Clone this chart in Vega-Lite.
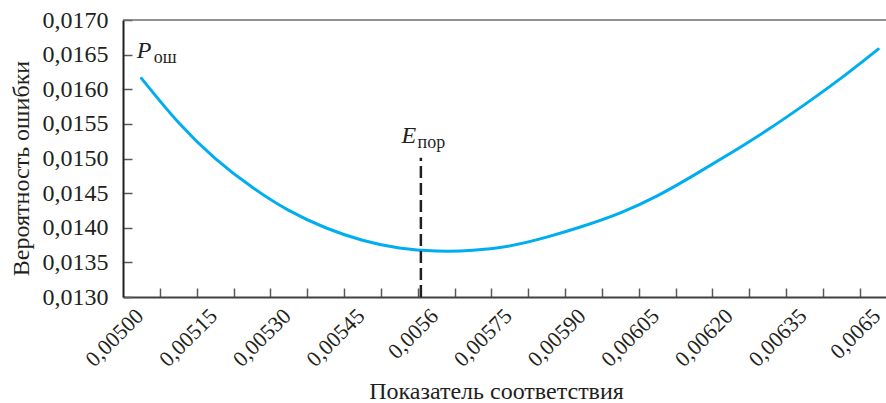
{
  "$schema": "https://vega.github.io/schema/vega-lite/v6.json",
  "autosize": {"type": "none"},
  "width": 763,
  "height": 277,
  "padding": {"left": 123, "top": 20, "right": 0, "bottom": 106},
  "background": "white",
  "config": {
    "view": {"stroke": null},
    "font": "Liberation Serif",
    "axis": {"grid": false, "labelOverlap": false, "labelFont": "Liberation Serif", "titleFont": "Liberation Serif", "titleFontWeight": "normal", "labelColor": "#231f20", "titleColor": "#231f20"}
  },
  "datasets": {
    "curve": [
      {"x": 0.005, "y": 0.016158},
      {"x": 0.005075, "y": 0.015524},
      {"x": 0.00515, "y": 0.015002},
      {"x": 0.005225, "y": 0.014587},
      {"x": 0.0053, "y": 0.01425},
      {"x": 0.005375, "y": 0.014},
      {"x": 0.00545, "y": 0.013819},
      {"x": 0.005525, "y": 0.013707},
      {"x": 0.0056, "y": 0.013664},
      {"x": 0.005675, "y": 0.013674},
      {"x": 0.00575, "y": 0.013738},
      {"x": 0.005825, "y": 0.013864},
      {"x": 0.0059, "y": 0.014025},
      {"x": 0.005975, "y": 0.014215},
      {"x": 0.00605, "y": 0.01446},
      {"x": 0.006125, "y": 0.01476},
      {"x": 0.0062, "y": 0.01508},
      {"x": 0.006275, "y": 0.015415},
      {"x": 0.00635, "y": 0.015778},
      {"x": 0.006425, "y": 0.016164},
      {"x": 0.0065, "y": 0.01658}
    ],
    "threshold": [{"x": 0.0055689, "y": 0.0130, "y2": 0.01501}],
    "border": [{"y": 0.017}],
    "mainText": [
      {"x": 0.0049907, "y": 0.016451, "text": "P"},
      {"x": 0.0055296, "y": 0.015219, "text": "E"}
    ],
    "subText": [
      {"x": 0.0050253, "y": 0.016379, "text": "ош"},
      {"x": 0.0055621, "y": 0.015147, "text": "пор"}
    ]
  },
  "layer": [
    {
      "data": {"name": "curve"},
      "mark": {"type": "line", "color": "#00aeef", "strokeWidth": 3, "interpolate": "natural", "strokeCap": "round"},
      "encoding": {
        "x": {
          "field": "x", "type": "quantitative",
          "scale": {"domain": [0.0049625, 0.0065158], "nice": false, "zero": false},
          "axis": {
            "title": "Показатель соответствия",
            "titleFontSize": 24,
            "titleX": 373,
            "titleY": 101,
            "titleBaseline": "alphabetic",
            "tickCount": 200,
            "values": [0.005, 0.0050375, 0.0051125, 0.00515, 0.0051875, 0.0052625, 0.0053, 0.0053375, 0.0054125, 0.00545, 0.0054875, 0.0055625, 0.0056, 0.0056375, 0.0057125, 0.00575, 0.0057875, 0.0058625, 0.0059, 0.0059375, 0.0060125, 0.00605, 0.0060875, 0.0061625, 0.0062, 0.0062375, 0.0063125, 0.00635, 0.0063875, 0.0064625, 0.0065],
            "labelExpr": "abs((datum.value-0.005)/0.00015 - round((datum.value-0.005)/0.00015)) < 0.01 ? ['0,00500','0,00515','0,00530','0,00545','0,0056','0,00575','0,00590','0,00605','0,00620','0,00635','0,0065'][round((datum.value-0.005)/0.00015)] : ''",
            "labelAngle": -45,
            "labelAlign": "right",
            "labelBaseline": "middle",
            "labelFontSize": 22,
            "labelPadding": 24,
            "labelOffset": -2,
            "labelOverlap": false,
            "labelFlush": false,
            "labelBound": false,
            "tickSize": -9,
            "tickColor": "#58595b",
            "tickWidth": 1.5,
            "tickOpacity": {"condition": {"test": "abs((datum.value-0.005)/0.00015 - round((datum.value-0.005)/0.00015)) < 0.01", "value": 0}, "value": 1},
            "domainColor": "#414042",
            "domainWidth": 2
          }
        },
        "y": {
          "field": "y", "type": "quantitative",
          "scale": {"domain": [0.013, 0.017], "nice": false, "zero": false},
          "axis": {
            "title": "Вероятность ошибки",
            "titleFontSize": 24,
            "titleX": -90,
            "titleY": 148,
            "titleAngle": -90,
            "titleAlign": "center",
            "titleBaseline": "bottom",
            "tickCount": 100,
            "values": [0.013, 0.0135, 0.014, 0.0145, 0.015, 0.0155, 0.016, 0.0165, 0.017],
            "labelExpr": "replace(format(datum.value, '.4f'), '.', ',')",
            "labelFontSize": 24,
            "labelPadding": 24,
            "labelOverlap": false,
            "labelFlush": false,
            "labelBound": false,
            "tickSize": -9,
            "tickColor": "#58595b",
            "tickWidth": 1.5,
            "domainColor": "#231f20",
            "domainWidth": 2
          }
        }
      }
    },
    {
      "data": {"name": "threshold"},
      "mark": {"type": "rule", "color": "#231f20", "strokeWidth": 2.5, "strokeDash": [12, 5]},
      "encoding": {
        "x": {"field": "x", "type": "quantitative"},
        "y": {"field": "y", "type": "quantitative"},
        "y2": {"field": "y2"}
      }
    },
    {
      "data": {"name": "border"},
      "mark": {"type": "rule", "color": "#6d6e71", "strokeWidth": 1.5},
      "encoding": {"y": {"field": "y", "type": "quantitative"}}
    },
    {
      "data": {"name": "mainText"},
      "mark": {"type": "text", "align": "left", "baseline": "alphabetic", "font": "Liberation Serif", "fontStyle": "italic", "fontSize": 24, "color": "#231f20"},
      "encoding": {
        "x": {"field": "x", "type": "quantitative"},
        "y": {"field": "y", "type": "quantitative"},
        "text": {"field": "text"}
      }
    },
    {
      "data": {"name": "subText"},
      "mark": {"type": "text", "align": "left", "baseline": "alphabetic", "font": "Liberation Serif", "fontSize": 18, "color": "#231f20"},
      "encoding": {
        "x": {"field": "x", "type": "quantitative"},
        "y": {"field": "y", "type": "quantitative"},
        "text": {"field": "text"}
      }
    }
  ]
}
